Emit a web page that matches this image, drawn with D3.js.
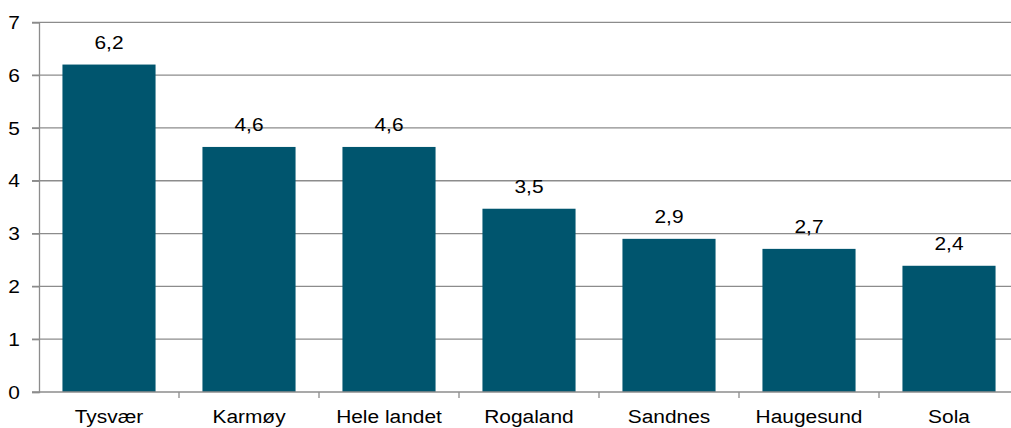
<!DOCTYPE html>
<html><head><meta charset="utf-8">
<script src="https://cdn.jsdelivr.net/npm/d3@7"></script>
<style>body{margin:0;background:#fff}svg{display:block}text{font-family:"Liberation Sans",Arial,sans-serif}</style>
</head><body><svg id="c" width="1011" height="428"></svg>
<script>
const categories = ["Tysvær","Karmøy","Hele landet","Rogaland","Sandnes","Haugesund","Sola"];
const values = [6.2, 4.64, 4.64, 3.47, 2.9, 2.71, 2.39];
const yTicks = [0,1,2,3,4,5,6,7];

const svg = d3.select("#c");
const x0 = 39, bandW = 140;
const FS = 19, SX = 1.1;
const x = d3.scaleBand().domain(categories).range([x0, x0 + bandW*categories.length]).paddingInner(0.335).paddingOuter(0.1675);
const y = d3.scaleLinear().domain([0,7]).range([392, 22.3]);
const grid = "#8c8c8c";

function label(g, data, fx, fy, txt, anchor) {
  return g.selectAll("text").data(data).join("text")
    .attr("transform", (d,i)=>`translate(${fx(d,i)},${fy(d,i)}) scale(${SX},1)`)
    .attr("text-anchor", anchor).attr("font-size", FS).attr("fill", "#000").text(txt);
}

// gridlines
svg.append("g").selectAll("line").data(yTicks.filter(d=>d>0)).join("line")
  .attr("x1", 32).attr("x2", 1011).attr("y1", d=>y(d)).attr("y2", d=>y(d))
  .attr("stroke", grid).attr("stroke-width", 1.3);

// bars
svg.append("g").selectAll("rect").data(values).join("rect")
  .attr("x", (d,i)=>x(categories[i])).attr("width", x.bandwidth())
  .attr("y", d=>y(d)).attr("height", d=>y(0)-y(d)).attr("fill", "#00556E");

// y axis
const ya = svg.append("g").attr("transform", `translate(${x0},0)`)
  .call(d3.axisLeft(y).tickValues(yTicks).tickSize(7).tickFormat(""));
ya.select(".domain").attr("stroke", grid).attr("stroke-width", 1.3);
ya.selectAll(".tick line").attr("stroke", grid).attr("stroke-width", 1.3);
label(svg.append("g"), yTicks, ()=>20, d=>y(d)+6.7, d=>String(d), "end");

// x axis baseline
svg.append("line").attr("x1", 32).attr("x2", 1011).attr("y1", y(0)).attr("y2", y(0))
  .attr("stroke", grid).attr("stroke-width", 1.3);
// category ticks at boundaries
svg.append("g").selectAll("line").data(d3.range(1, categories.length)).join("line")
  .attr("x1", d=>x0 + d*bandW).attr("x2", d=>x0 + d*bandW)
  .attr("y1", y(0)).attr("y2", y(0)+6).attr("stroke", grid).attr("stroke-width", 1.3);

// category labels
label(svg.append("g"), categories, d=>x(d)+x.bandwidth()/2, ()=>423, d=>d, "middle");

// value labels
const fmt = d => d.toFixed(1).replace(".", ",");
label(svg.append("g"), values, (d,i)=>x(categories[i])+x.bandwidth()/2, d=>y(d)-16, fmt, "middle");
</script></body></html>
